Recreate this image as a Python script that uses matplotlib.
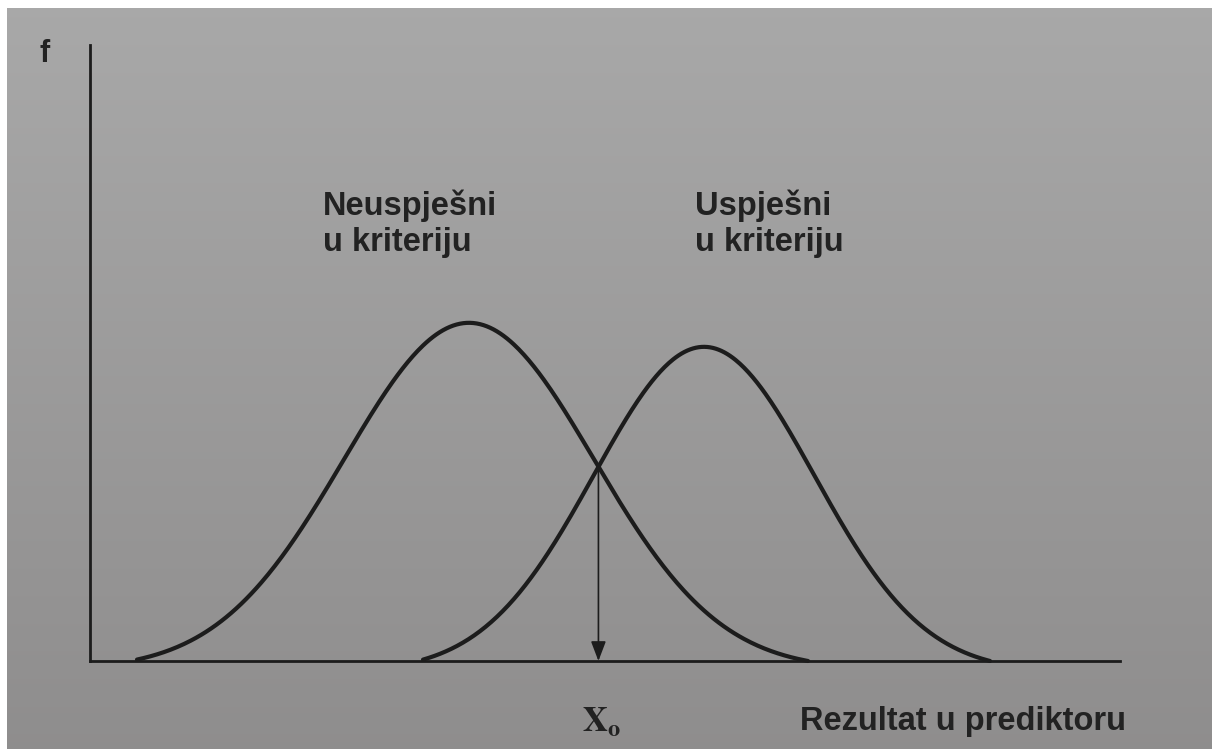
import numpy as np
import matplotlib
matplotlib.use("Agg")
import matplotlib.pyplot as plt

# ---- data (predictor units; x: 0..103, y: 0..100) ----
group_labels = ["Neuspješni\nu kriteriju", "Uspješni\nu kriteriju"]
group_means = [37.9, 61.4]
group_sds = [12.5, 11.0]
group_peaks = [54.9, 51.0]
group_starts = [4.7, 33.3]
group_ends = [71.8, 90.0]
label_pos_x = [23.3, 60.5]
x_axis_label = "Rezultat u prediktoru"
y_axis_label = "f"
cutoff_label = r"$\mathbf{X_o}$"

plt.rcParams['mathtext.fontset'] = 'stix'

W, H = 1212, 749
fig = plt.figure(figsize=(W / 100, H / 100), dpi=100)
fig.patch.set_facecolor("white")

# photographed-paper background (gradient)
bg = fig.add_axes([7 / W, 0, 1 - 7 / W, 1 - 8 / H])
grad = np.linspace(0, 1, 256).reshape(-1, 1)
top = np.array([0.66, 0.66, 0.66])
bot = np.array([0.56, 0.555, 0.555])
img = top[None, None, :] * (1 - grad[:, :, None]) + bot[None, None, :] * grad[:, :, None]
bg.imshow(img, aspect="auto", extent=[0, 1, 0, 1], origin="upper")
bg.set_axis_off()

ax = fig.add_axes([90 / W, 88 / H, 1030 / W, 616 / H])
ax.patch.set_alpha(0)
ax.set_xlim(0, 103)
ax.set_ylim(0, 100)
for s in ["top", "right"]:
    ax.spines[s].set_visible(False)
ink = "#1c1c1c"
for s in ["left", "bottom"]:
    ax.spines[s].set_color(ink)
    ax.spines[s].set_linewidth(2.0)
ax.set_xticks([])
ax.set_yticks([])


def curve(x, m, sd, pk, a, b):
    g = np.exp(-0.5 * ((x - m) / sd) ** 2)
    c = np.exp(-0.5 * ((max(m - a, b - m)) / sd) ** 2)
    return pk * np.clip((g - c) / (1 - c), 0, None)


curves = []
for m, sd, pk, a, b in zip(group_means, group_sds, group_peaks, group_starts, group_ends):
    xs = np.linspace(a, b, 400)
    ys = curve(xs, m, sd, pk, a, b)
    ax.plot(xs, ys, color=ink, lw=3.0, solid_capstyle="round", clip_on=False, zorder=3)
    curves.append((m, sd, pk, a, b))

# cutoff = crossing of the two curves
xx = np.linspace(group_means[0], group_means[1], 2000)
y1 = curve(xx, *curves[0])
y2 = curve(xx, *curves[1])
i = np.argmin(np.abs(y1 - y2))
x0, y0 = xx[i], y1[i]
ax.annotate("", xy=(x0, 0), xytext=(x0, y0),
            arrowprops=dict(arrowstyle="-|>,head_length=1.0,head_width=0.38",
                            color=ink, lw=1.2, shrinkA=0, shrinkB=0,
                            mutation_scale=12), zorder=4)

# labels
for lab, lx in zip(group_labels, label_pos_x):
    ax.text(lx, 76.6, lab, ha="left", va="top", fontsize=23.5, fontweight="bold",
            family="Liberation Sans", color="#222222", linespacing=1.24)

ax.text(-4.5, 98.6, y_axis_label, ha="center", va="center", fontsize=22,
        fontweight="bold", family="Liberation Sans", color="#222222", clip_on=False)
ax.text(x0 + 0.3, -9.8, cutoff_label, ha="center", va="center", fontsize=25,
        color="#222222", clip_on=False)
ax.text(71.0, -9.8, x_axis_label, ha="left", va="center", fontsize=23.5,
        fontweight="bold", family="Liberation Sans", color="#222222", clip_on=False)

fig.savefig("out.png", dpi=100, facecolor=fig.get_facecolor())
